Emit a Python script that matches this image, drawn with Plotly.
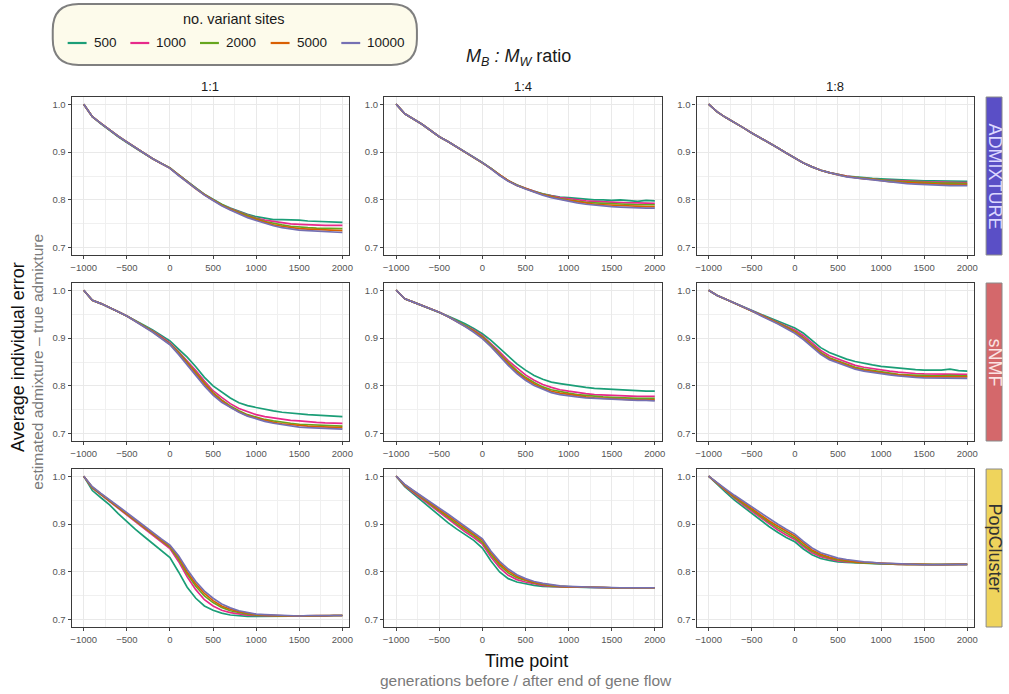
import plotly.graph_objects as go

# ---------------------------------------------------------------- data
time_points = list(range(-1000, 2001, 100))
variant_sites = ["500", "1000", "2000", "5000", "10000"]
line_colors = ["#1B9E77", "#E7298A", "#66A61E", "#D95F02", "#7570B3"]
ratios = ["1:1", "1:4", "1:8"]
methods = ["ADMIXTURE", "sNMF", "PopCluster"]
strip_fill = ["#5a4fc6", "#d4686b", "#efd45c"]
strip_text = ["#dcd8ff", "#fbe4e4", "#333333"]
x_ticks = [-1000, -500, 0, 500, 1000, 1500, 2000]
y_ticks = [0.7, 0.8, 0.9, 1.0]

# average individual error, one list per number of variant sites (500 ... 10000)
admixture_1_1 = [
    [1.000, 0.974, 0.959, 0.945, 0.932, 0.920, 0.908, 0.897, 0.886, 0.876, 0.867, 0.853, 0.838, 0.825, 0.812, 0.801, 0.791, 0.783, 0.776, 0.770, 0.765, 0.762, 0.759, 0.759, 0.759, 0.758, 0.756, 0.755, 0.755, 0.754, 0.753],
    [1.000, 0.974, 0.960, 0.946, 0.933, 0.921, 0.909, 0.897, 0.886, 0.876, 0.867, 0.852, 0.838, 0.824, 0.811, 0.800, 0.790, 0.782, 0.775, 0.768, 0.762, 0.758, 0.755, 0.752, 0.750, 0.749, 0.748, 0.748, 0.747, 0.747, 0.747],
    [1.000, 0.974, 0.960, 0.946, 0.933, 0.921, 0.909, 0.897, 0.886, 0.876, 0.867, 0.852, 0.838, 0.824, 0.811, 0.800, 0.790, 0.781, 0.774, 0.767, 0.761, 0.755, 0.751, 0.748, 0.745, 0.743, 0.742, 0.741, 0.741, 0.740, 0.740],
    [1.000, 0.974, 0.960, 0.946, 0.933, 0.921, 0.909, 0.897, 0.886, 0.876, 0.866, 0.852, 0.837, 0.823, 0.811, 0.800, 0.789, 0.780, 0.772, 0.765, 0.759, 0.753, 0.748, 0.745, 0.742, 0.740, 0.739, 0.738, 0.737, 0.737, 0.736],
    [1.000, 0.974, 0.960, 0.946, 0.933, 0.921, 0.909, 0.897, 0.886, 0.876, 0.866, 0.851, 0.837, 0.823, 0.810, 0.799, 0.788, 0.779, 0.771, 0.763, 0.757, 0.751, 0.746, 0.742, 0.739, 0.737, 0.736, 0.735, 0.734, 0.733, 0.732],
]
admixture_1_4 = [
    [1.000, 0.980, 0.969, 0.958, 0.945, 0.932, 0.922, 0.911, 0.901, 0.889, 0.878, 0.866, 0.852, 0.840, 0.831, 0.824, 0.818, 0.813, 0.809, 0.806, 0.805, 0.803, 0.801, 0.800, 0.800, 0.799, 0.800, 0.798, 0.797, 0.799, 0.798],
    [1.000, 0.980, 0.969, 0.958, 0.945, 0.932, 0.922, 0.911, 0.900, 0.889, 0.878, 0.866, 0.852, 0.840, 0.831, 0.824, 0.818, 0.812, 0.808, 0.805, 0.803, 0.800, 0.798, 0.797, 0.796, 0.796, 0.795, 0.794, 0.794, 0.793, 0.793],
    [1.000, 0.980, 0.969, 0.958, 0.945, 0.932, 0.922, 0.911, 0.900, 0.889, 0.878, 0.866, 0.852, 0.840, 0.831, 0.824, 0.817, 0.812, 0.807, 0.803, 0.800, 0.797, 0.795, 0.794, 0.793, 0.792, 0.791, 0.791, 0.790, 0.790, 0.790],
    [1.000, 0.980, 0.969, 0.958, 0.945, 0.932, 0.922, 0.911, 0.900, 0.889, 0.878, 0.865, 0.852, 0.840, 0.830, 0.823, 0.817, 0.811, 0.806, 0.802, 0.799, 0.796, 0.793, 0.791, 0.790, 0.789, 0.788, 0.787, 0.787, 0.786, 0.786],
    [1.000, 0.980, 0.969, 0.958, 0.945, 0.932, 0.922, 0.911, 0.900, 0.889, 0.878, 0.865, 0.851, 0.839, 0.830, 0.823, 0.816, 0.810, 0.805, 0.801, 0.797, 0.794, 0.791, 0.789, 0.787, 0.786, 0.785, 0.784, 0.784, 0.783, 0.783],
]
admixture_1_8 = [
    [1.000, 0.984, 0.972, 0.962, 0.951, 0.940, 0.930, 0.920, 0.909, 0.898, 0.887, 0.877, 0.869, 0.862, 0.857, 0.853, 0.850, 0.848, 0.846, 0.845, 0.844, 0.843, 0.842, 0.841, 0.841, 0.840, 0.840, 0.840, 0.840, 0.839, 0.839],
    [1.000, 0.984, 0.972, 0.962, 0.951, 0.940, 0.930, 0.920, 0.909, 0.898, 0.887, 0.877, 0.869, 0.862, 0.857, 0.853, 0.850, 0.847, 0.845, 0.844, 0.842, 0.841, 0.840, 0.839, 0.838, 0.838, 0.837, 0.837, 0.836, 0.836, 0.836],
    [1.000, 0.984, 0.972, 0.962, 0.951, 0.940, 0.930, 0.920, 0.909, 0.898, 0.887, 0.877, 0.869, 0.862, 0.857, 0.853, 0.849, 0.847, 0.845, 0.843, 0.841, 0.840, 0.839, 0.838, 0.837, 0.836, 0.835, 0.835, 0.835, 0.834, 0.834],
    [1.000, 0.984, 0.972, 0.962, 0.951, 0.940, 0.930, 0.920, 0.909, 0.898, 0.887, 0.877, 0.869, 0.862, 0.857, 0.852, 0.849, 0.846, 0.844, 0.843, 0.840, 0.838, 0.837, 0.836, 0.835, 0.834, 0.833, 0.833, 0.832, 0.832, 0.832],
    [1.000, 0.984, 0.972, 0.962, 0.951, 0.940, 0.930, 0.920, 0.909, 0.898, 0.887, 0.877, 0.869, 0.862, 0.857, 0.852, 0.848, 0.846, 0.844, 0.842, 0.839, 0.837, 0.835, 0.834, 0.833, 0.832, 0.831, 0.831, 0.830, 0.830, 0.830],
]
snmf_1_1 = [
    [1.000, 0.979, 0.972, 0.964, 0.955, 0.946, 0.937, 0.927, 0.917, 0.906, 0.894, 0.877, 0.860, 0.840, 0.818, 0.800, 0.787, 0.775, 0.765, 0.759, 0.755, 0.751, 0.748, 0.745, 0.743, 0.742, 0.740, 0.739, 0.738, 0.737, 0.736],
    [1.000, 0.979, 0.972, 0.964, 0.955, 0.946, 0.936, 0.926, 0.915, 0.903, 0.890, 0.872, 0.853, 0.832, 0.810, 0.790, 0.776, 0.763, 0.753, 0.746, 0.740, 0.736, 0.733, 0.730, 0.728, 0.727, 0.725, 0.724, 0.723, 0.723, 0.722],
    [1.000, 0.979, 0.972, 0.964, 0.955, 0.946, 0.936, 0.925, 0.914, 0.901, 0.888, 0.870, 0.850, 0.828, 0.806, 0.786, 0.771, 0.758, 0.748, 0.740, 0.735, 0.730, 0.727, 0.724, 0.722, 0.720, 0.719, 0.718, 0.717, 0.717, 0.716],
    [1.000, 0.979, 0.972, 0.964, 0.955, 0.946, 0.935, 0.924, 0.913, 0.900, 0.887, 0.868, 0.848, 0.826, 0.804, 0.784, 0.769, 0.756, 0.746, 0.738, 0.733, 0.728, 0.724, 0.721, 0.719, 0.717, 0.716, 0.715, 0.714, 0.714, 0.713],
    [1.000, 0.979, 0.972, 0.964, 0.955, 0.946, 0.935, 0.923, 0.912, 0.899, 0.886, 0.866, 0.845, 0.822, 0.800, 0.781, 0.766, 0.755, 0.745, 0.737, 0.731, 0.726, 0.722, 0.719, 0.716, 0.714, 0.713, 0.712, 0.711, 0.711, 0.710],
]
snmf_1_4 = [
    [1.000, 0.982, 0.975, 0.968, 0.961, 0.954, 0.946, 0.938, 0.930, 0.920, 0.909, 0.895, 0.878, 0.861, 0.846, 0.833, 0.822, 0.814, 0.808, 0.805, 0.802, 0.799, 0.797, 0.795, 0.794, 0.793, 0.791, 0.790, 0.789, 0.789, 0.789],
    [1.000, 0.982, 0.975, 0.968, 0.961, 0.954, 0.945, 0.936, 0.927, 0.917, 0.905, 0.889, 0.871, 0.853, 0.837, 0.823, 0.812, 0.803, 0.797, 0.792, 0.789, 0.786, 0.784, 0.782, 0.781, 0.780, 0.779, 0.779, 0.778, 0.778, 0.778],
    [1.000, 0.982, 0.975, 0.968, 0.961, 0.954, 0.945, 0.936, 0.926, 0.915, 0.903, 0.886, 0.867, 0.849, 0.832, 0.818, 0.807, 0.798, 0.792, 0.788, 0.785, 0.782, 0.780, 0.778, 0.777, 0.776, 0.775, 0.775, 0.774, 0.774, 0.774],
    [1.000, 0.982, 0.975, 0.968, 0.961, 0.954, 0.945, 0.935, 0.925, 0.914, 0.901, 0.884, 0.865, 0.846, 0.829, 0.815, 0.804, 0.795, 0.789, 0.785, 0.782, 0.779, 0.777, 0.775, 0.774, 0.773, 0.772, 0.772, 0.771, 0.771, 0.771],
    [1.000, 0.982, 0.975, 0.968, 0.961, 0.954, 0.945, 0.935, 0.924, 0.912, 0.899, 0.882, 0.862, 0.843, 0.826, 0.812, 0.801, 0.793, 0.786, 0.782, 0.779, 0.777, 0.775, 0.774, 0.773, 0.772, 0.771, 0.771, 0.770, 0.770, 0.769],
]
snmf_1_8 = [
    [1.000, 0.989, 0.981, 0.973, 0.965, 0.957, 0.950, 0.943, 0.936, 0.929, 0.921, 0.910, 0.894, 0.880, 0.870, 0.863, 0.856, 0.851, 0.847, 0.844, 0.841, 0.839, 0.837, 0.835, 0.834, 0.833, 0.833, 0.833, 0.835, 0.832, 0.831],
    [1.000, 0.989, 0.981, 0.973, 0.965, 0.957, 0.949, 0.942, 0.934, 0.926, 0.917, 0.905, 0.889, 0.874, 0.863, 0.856, 0.849, 0.843, 0.839, 0.836, 0.834, 0.831, 0.829, 0.827, 0.826, 0.825, 0.825, 0.824, 0.825, 0.824, 0.824],
    [1.000, 0.989, 0.981, 0.973, 0.965, 0.957, 0.948, 0.940, 0.932, 0.923, 0.914, 0.901, 0.885, 0.870, 0.859, 0.852, 0.845, 0.839, 0.835, 0.832, 0.829, 0.826, 0.824, 0.823, 0.822, 0.821, 0.821, 0.821, 0.822, 0.821, 0.821],
    [1.000, 0.989, 0.981, 0.973, 0.965, 0.957, 0.948, 0.940, 0.931, 0.922, 0.912, 0.899, 0.883, 0.868, 0.857, 0.850, 0.843, 0.837, 0.833, 0.830, 0.828, 0.825, 0.823, 0.821, 0.820, 0.819, 0.819, 0.819, 0.819, 0.819, 0.819],
    [1.000, 0.989, 0.981, 0.973, 0.965, 0.957, 0.947, 0.939, 0.930, 0.920, 0.910, 0.897, 0.881, 0.866, 0.855, 0.848, 0.841, 0.835, 0.831, 0.828, 0.825, 0.823, 0.821, 0.819, 0.818, 0.817, 0.817, 0.817, 0.817, 0.816, 0.816],
]
popcluster_1_1 = [
    [1.000, 0.970, 0.955, 0.940, 0.922, 0.905, 0.889, 0.874, 0.859, 0.845, 0.830, 0.800, 0.768, 0.745, 0.729, 0.720, 0.714, 0.710, 0.708, 0.707, 0.707, 0.707, 0.707, 0.707, 0.707, 0.707, 0.708, 0.708, 0.708, 0.709, 0.709],
    [1.000, 0.975, 0.961, 0.947, 0.933, 0.919, 0.905, 0.891, 0.877, 0.863, 0.849, 0.822, 0.790, 0.763, 0.742, 0.729, 0.720, 0.715, 0.712, 0.710, 0.709, 0.708, 0.708, 0.708, 0.708, 0.707, 0.708, 0.708, 0.708, 0.709, 0.709],
    [1.000, 0.976, 0.962, 0.948, 0.934, 0.921, 0.907, 0.893, 0.879, 0.866, 0.852, 0.827, 0.796, 0.770, 0.750, 0.736, 0.726, 0.719, 0.715, 0.712, 0.710, 0.709, 0.709, 0.708, 0.708, 0.708, 0.708, 0.709, 0.709, 0.709, 0.709],
    [1.000, 0.977, 0.963, 0.949, 0.936, 0.922, 0.909, 0.895, 0.881, 0.867, 0.854, 0.831, 0.800, 0.775, 0.755, 0.740, 0.729, 0.722, 0.717, 0.714, 0.711, 0.710, 0.709, 0.709, 0.708, 0.708, 0.709, 0.709, 0.709, 0.709, 0.709],
    [1.000, 0.978, 0.964, 0.951, 0.937, 0.924, 0.910, 0.896, 0.882, 0.869, 0.856, 0.834, 0.805, 0.780, 0.760, 0.745, 0.733, 0.725, 0.719, 0.715, 0.712, 0.711, 0.710, 0.709, 0.709, 0.708, 0.709, 0.709, 0.709, 0.709, 0.709],
]
popcluster_1_4 = [
    [1.000, 0.978, 0.963, 0.948, 0.932, 0.917, 0.903, 0.890, 0.878, 0.866, 0.850, 0.823, 0.800, 0.786, 0.779, 0.775, 0.772, 0.770, 0.769, 0.768, 0.768, 0.768, 0.767, 0.767, 0.767, 0.767, 0.767, 0.767, 0.767, 0.767, 0.767],
    [1.000, 0.980, 0.966, 0.952, 0.938, 0.924, 0.910, 0.897, 0.884, 0.872, 0.858, 0.831, 0.809, 0.793, 0.784, 0.779, 0.775, 0.772, 0.770, 0.769, 0.768, 0.768, 0.768, 0.767, 0.767, 0.767, 0.767, 0.767, 0.767, 0.767, 0.767],
    [1.000, 0.981, 0.968, 0.954, 0.941, 0.928, 0.914, 0.901, 0.888, 0.876, 0.862, 0.836, 0.814, 0.798, 0.788, 0.782, 0.777, 0.774, 0.771, 0.770, 0.769, 0.768, 0.768, 0.768, 0.767, 0.767, 0.767, 0.767, 0.767, 0.767, 0.767],
    [1.000, 0.982, 0.969, 0.956, 0.943, 0.931, 0.917, 0.904, 0.891, 0.879, 0.866, 0.840, 0.818, 0.802, 0.791, 0.784, 0.778, 0.775, 0.772, 0.770, 0.769, 0.769, 0.768, 0.768, 0.768, 0.767, 0.767, 0.767, 0.767, 0.767, 0.767],
    [1.000, 0.983, 0.970, 0.958, 0.946, 0.934, 0.921, 0.908, 0.895, 0.882, 0.869, 0.843, 0.822, 0.806, 0.794, 0.786, 0.780, 0.776, 0.773, 0.771, 0.770, 0.769, 0.768, 0.768, 0.768, 0.767, 0.767, 0.767, 0.767, 0.767, 0.767],
]
popcluster_1_8 = [
    [1.000, 0.982, 0.966, 0.950, 0.936, 0.922, 0.908, 0.895, 0.883, 0.872, 0.863, 0.848, 0.836, 0.828, 0.824, 0.821, 0.820, 0.819, 0.818, 0.818, 0.817, 0.817, 0.816, 0.816, 0.816, 0.815, 0.815, 0.815, 0.816, 0.816, 0.816],
    [1.000, 0.984, 0.969, 0.954, 0.940, 0.927, 0.913, 0.900, 0.888, 0.877, 0.868, 0.853, 0.840, 0.832, 0.827, 0.823, 0.821, 0.820, 0.819, 0.818, 0.817, 0.817, 0.816, 0.816, 0.816, 0.815, 0.815, 0.815, 0.816, 0.816, 0.816],
    [1.000, 0.985, 0.970, 0.956, 0.943, 0.930, 0.916, 0.904, 0.892, 0.881, 0.871, 0.856, 0.843, 0.835, 0.829, 0.825, 0.822, 0.820, 0.819, 0.818, 0.817, 0.817, 0.816, 0.816, 0.816, 0.815, 0.815, 0.815, 0.816, 0.816, 0.816],
    [1.000, 0.985, 0.971, 0.958, 0.945, 0.933, 0.919, 0.907, 0.896, 0.885, 0.875, 0.860, 0.846, 0.837, 0.831, 0.827, 0.824, 0.821, 0.820, 0.819, 0.818, 0.817, 0.816, 0.816, 0.816, 0.815, 0.815, 0.815, 0.816, 0.816, 0.816],
    [1.000, 0.986, 0.973, 0.960, 0.948, 0.936, 0.923, 0.911, 0.900, 0.889, 0.879, 0.864, 0.850, 0.840, 0.834, 0.829, 0.826, 0.823, 0.821, 0.820, 0.818, 0.818, 0.817, 0.816, 0.816, 0.815, 0.815, 0.815, 0.816, 0.816, 0.816],
]

panel_data = [
    [admixture_1_1, admixture_1_4, admixture_1_8],
    [snmf_1_1, snmf_1_4, snmf_1_8],
    [popcluster_1_1, popcluster_1_4, popcluster_1_8],
]

# ---------------------------------------------------------------- layout helpers
W, H = 1009, 694
FONT = "Liberation Sans, Arial, Helvetica, sans-serif"
col_px = [(71, 350), (385, 664), (699, 978)]
row_px = [(97, 255), (283, 441), (469, 627)]


def px_x(px):
    return px / W


def px_y(py):
    return 1 - py / H


fig = go.Figure()
layout = {}
shapes = []
annotations = []

for r in range(3):
    for c in range(3):
        k = r * 3 + c + 1
        xa = "xaxis" if k == 1 else f"xaxis{k}"
        ya = "yaxis" if k == 1 else f"yaxis{k}"
        xref = "x" if k == 1 else f"x{k}"
        yref = "y" if k == 1 else f"y{k}"
        for s, series in enumerate(panel_data[r][c]):
            fig.add_trace(go.Scatter(
                x=time_points, y=series, mode="lines",
                line=dict(color=line_colors[s], width=1.7),
                name=variant_sites[s], showlegend=False,
                xaxis=xref, yaxis=yref,
            ))
        common = dict(
            showline=True, mirror=True, linecolor="#3a3a3a", linewidth=1.2,
            showgrid=True, gridcolor="#e9e9e9", gridwidth=1.1,
            zeroline=False, ticks="outside", ticklen=3, tickwidth=1,
            tickcolor="#444444",
            tickfont=dict(family=FONT, size=9.5, color="#555555"),
            fixedrange=True,
        )
        layout[xa] = dict(
            common, domain=[px_x(col_px[c][0]), px_x(col_px[c][1])],
            anchor=yref, range=[-1140, 2080],
            tickmode="array", tickvals=x_ticks,
            ticktext=[str(v).replace("-", "\u2212") for v in x_ticks],
            minor=dict(tickvals=[-750, -250, 250, 750, 1250, 1750],
                       showgrid=True, gridcolor="#f0f0f0", gridwidth=0.8,
                       ticks=""),
        )
        layout[ya] = dict(
            common, domain=[px_y(row_px[r][1]), px_y(row_px[r][0])],
            anchor=xref, range=[0.685, 1.015],
            tickmode="array", tickvals=y_ticks,
            ticktext=[f"{v:.1f}" for v in y_ticks],
            minor=dict(tickvals=[0.75, 0.85, 0.95],
                       showgrid=True, gridcolor="#f0f0f0", gridwidth=0.8,
                       ticks=""),
        )

# column strips (ratio)
for c, ratio in enumerate(ratios):
    annotations.append(dict(
        x=px_x((col_px[c][0] + col_px[c][1]) / 2), y=px_y(87),
        xref="paper", yref="paper", text=ratio, showarrow=False,
        xanchor="center", yanchor="middle",
        font=dict(family=FONT, size=13, color="#1a1a1a"),
    ))

# row strips (method)
for r, method in enumerate(methods):
    shapes.append(dict(
        type="rect", xref="paper", yref="paper",
        x0=px_x(990), x1=px_x(1006),
        y0=px_y(row_px[r][1]), y1=px_y(row_px[r][0]),
        fillcolor=strip_fill[r], line=dict(color="#8a8a8a", width=1),
    ))
    annotations.append(dict(
        x=px_x(998.5), y=px_y((row_px[r][0] + row_px[r][1]) / 2),
        xref="paper", yref="paper", text=method, showarrow=False,
        textangle=90, xanchor="center", yanchor="middle",
        font=dict(family=FONT, size=18, color=strip_text[r]),
    ))

# overall facet title
annotations.append(dict(
    x=px_x(520), y=px_y(57), xref="paper", yref="paper",
    text="<i>M</i><sub><i>B</i></sub><i> : M</i><sub><i>W</i></sub> ratio",
    showarrow=False, xanchor="center", yanchor="middle",
    font=dict(family=FONT, size=18, color="#1a1a1a"),
))

# axis titles
annotations += [
    dict(x=px_x(17), y=px_y(357), xref="paper", yref="paper",
         text="Average individual error", textangle=-90, showarrow=False,
         xanchor="center", yanchor="middle",
         font=dict(family=FONT, size=18, color="#111111")),
    dict(x=px_x(36), y=px_y(362), xref="paper", yref="paper",
         text="estimated admixture \u2013 true admixture", textangle=-90,
         showarrow=False, xanchor="center", yanchor="middle",
         font=dict(family=FONT, size=15.5, color="#7a7a7a")),
    dict(x=px_x(528), y=px_y(661), xref="paper", yref="paper",
         text="Time point", showarrow=False,
         xanchor="center", yanchor="middle",
         font=dict(family=FONT, size=18, color="#111111")),
    dict(x=px_x(528), y=px_y(680), xref="paper", yref="paper",
         text="generations before / after end of gene flow", showarrow=False,
         xanchor="center", yanchor="middle",
         font=dict(family=FONT, size=15.5, color="#7a7a7a")),
]

# legend: rounded box with title and short line keys
bx0, bx1, by0, by1, rad = 52, 418, 4, 65, 26
path = (
    f"M {px_x(bx0 + rad)},{px_y(by0)} L {px_x(bx1 - rad)},{px_y(by0)} "
    f"Q {px_x(bx1)},{px_y(by0)} {px_x(bx1)},{px_y(by0 + rad)} "
    f"L {px_x(bx1)},{px_y(by1 - rad)} "
    f"Q {px_x(bx1)},{px_y(by1)} {px_x(bx1 - rad)},{px_y(by1)} "
    f"L {px_x(bx0 + rad)},{px_y(by1)} "
    f"Q {px_x(bx0)},{px_y(by1)} {px_x(bx0)},{px_y(by1 - rad)} "
    f"L {px_x(bx0)},{px_y(by0 + rad)} "
    f"Q {px_x(bx0)},{px_y(by0)} {px_x(bx0 + rad)},{px_y(by0)} Z"
)
shapes.append(dict(type="path", xref="paper", yref="paper", path=path,
                   fillcolor="#fdfbeb", line=dict(color="#7f7f7f", width=2)))
annotations.append(dict(
    x=px_x(234), y=px_y(19), xref="paper", yref="paper",
    text="no. variant sites", showarrow=False,
    xanchor="center", yanchor="middle",
    font=dict(family=FONT, size=14.5, color="#1a1a1a"),
))
key_x = [67, 130, 200, 271, 342]
for s, label in enumerate(variant_sites):
    shapes.append(dict(
        type="line", xref="paper", yref="paper",
        x0=px_x(key_x[s]), x1=px_x(key_x[s] + 19),
        y0=px_y(43), y1=px_y(43),
        line=dict(color=line_colors[s], width=2.2),
    ))
    annotations.append(dict(
        x=px_x(key_x[s] + 24), y=px_y(43), xref="paper", yref="paper",
        text=label, showarrow=False, xanchor="left", yanchor="middle",
        font=dict(family=FONT, size=13.5, color="#1a1a1a"),
    ))

fig.update_layout(
    width=W, height=H,
    margin=dict(l=0, r=0, t=0, b=0),
    paper_bgcolor="white", plot_bgcolor="white",
    showlegend=False,
    shapes=shapes, annotations=annotations,
    **layout,
)

fig.write_html("out.html")
